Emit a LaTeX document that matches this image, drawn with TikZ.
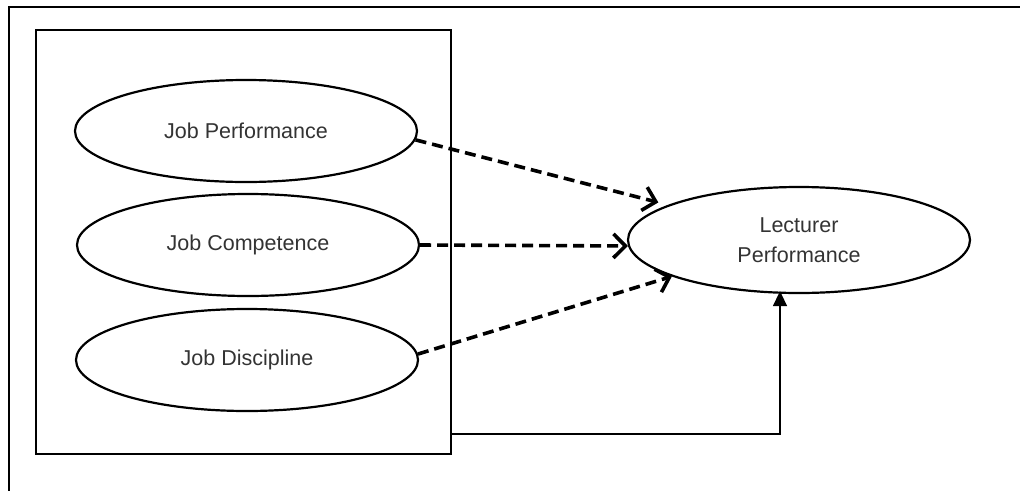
\documentclass[tikz,border=0pt]{standalone}
\usepackage{fontspec}
\setmainfont{Liberation Sans}
\usetikzlibrary{shapes.geometric,arrows.meta}
\begin{document}
\begin{tikzpicture}[x=1pt,y=-1pt,
  ell/.style={ellipse,draw,line width=2.2pt,minimum width=342pt,minimum height=102pt,inner sep=0pt,
    font=\fontsize{21.5}{30}\selectfont,text=black!80,align=center},
  dasharrow/.style={line width=3.6pt,dash pattern=on 11pt off 6pt,
    -{Straight Barb[length=12pt,width=24pt,line width=3.6pt]}},
  solidarrow/.style={line width=1.3pt,-{Triangle[length=15pt,width=14pt]}},
  frame/.style={line width=2.4pt}]
\useasboundingbox (0,0) rectangle (1020,490);
\clip (0,0) rectangle (1020,490);
% outer frame (only top and left sides visible)
\draw[frame] (9,495) |- (1025,7);
% inner box
\node[draw,line width=2.2pt,minimum width=415pt,minimum height=424pt,inner sep=0pt] (box) at (243.5,242) {};
% ellipses
\node[ell] (jp) at (246,131) {Job Performance};
\node[ell] (jc) at (248,245) {Job Competence};
\node[ell] (jd) at (247,360) {Job Discipline};
\node[ell,minimum height=106pt] (lp) at (799,240) {\rule{0pt}{6pt}Lecturer\\Performance};
% dashed arrows
\draw[dasharrow,shorten >=10pt] (jp.-3) -- (lp.165);
\draw[dasharrow] (jc.0) -- (lp.182);
\draw[dasharrow] (jd.2) -- (lp.196);
% solid arrow
\draw[solidarrow,shorten >=-3pt] ([yshift=21pt]box.south east) -| ([xshift=-19pt]lp.south);
\end{tikzpicture}
\end{document}
